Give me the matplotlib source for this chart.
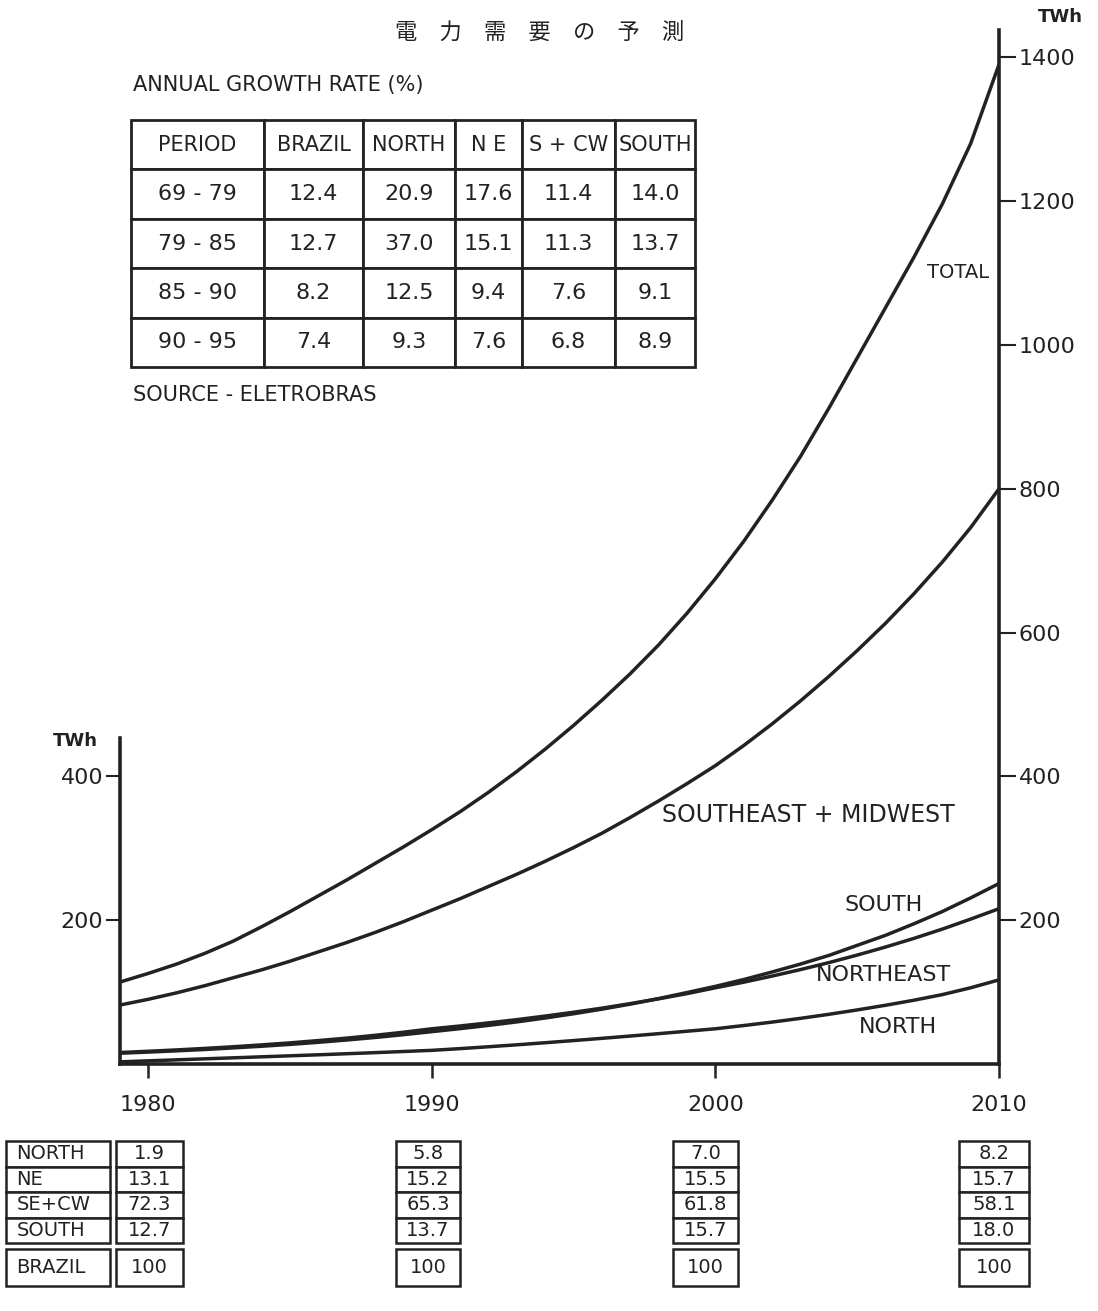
import matplotlib.pyplot as plt

# projected electricity demand (TWh)
years = list(range(1979, 2011))
total = [114, 126, 139, 154, 171, 191, 212, 234, 256, 279, 302, 326,
         351, 378, 407, 438, 471, 506, 543, 583, 627, 675,
         727, 784, 845, 912, 982, 1052, 1122, 1196, 1280, 1390]
se_mw = [82, 90, 99, 109, 120, 131, 143, 156, 169, 183, 198, 214,
         230, 247, 264, 282, 301, 321, 343, 366, 390, 415,
         443, 473, 505, 539, 575, 613, 654, 698, 746, 800]
south = [15, 16.6, 18.3, 20.2, 22.4, 24.7, 27.3, 30.2, 33.4, 36.9, 40.8, 45,
         49.2, 53.7, 58.6, 64.0, 69.9, 76.3, 83.3, 91.0, 99.4, 108,
         117.5, 128, 139, 151, 165, 179, 195, 212, 231, 251]
northeast = [16, 17.7, 19.6, 21.7, 24.0, 26.6, 29.4, 32.6, 36.0, 39.9, 44.2, 49,
             52.9, 57.2, 61.7, 66.7, 72.0, 77.7, 84.0, 90.7, 97.9, 106,
             113.8, 122.3, 131.3, 141.0, 151.5, 162.7, 174.7, 187.6, 201.5, 216]
north = [3, 4.4, 5.8, 7.2, 8.6, 10, 11.4, 12.8, 14.3, 15.8, 17.4, 19,
         21.4, 24, 26.7, 29.6, 32.6, 35.7, 38.9, 42.2, 45.6, 49,
         53.5, 58.3, 63.5, 69.1, 75.2, 81.7, 88.7, 96.5, 106, 117]

# annual growth rate table
table_header = ['PERIOD', 'BRAZIL', 'NORTH', 'N E', 'S + CW', 'SOUTH']
periods = ['69 - 79', '79 - 85', '85 - 90', '90 - 95']
rate_brazil = [12.4, 12.7, 8.2, 7.4]
rate_north = [20.9, 37.0, 12.5, 9.3]
rate_ne = [17.6, 15.1, 9.4, 7.6]
rate_scw = [11.4, 11.3, 7.6, 6.8]
rate_south = [14.0, 13.7, 9.1, 8.9]

# regional shares (%)
share_years = [1980, 1990, 2000, 2010]
share_labels = ['NORTH', 'NE', 'SE+CW', 'SOUTH']
share_north = [1.9, 5.8, 7.0, 8.2]
share_ne = [13.1, 15.2, 15.5, 15.7]
share_secw = [72.3, 65.3, 61.8, 58.1]
share_south = [12.7, 13.7, 15.7, 18.0]
share_brazil = [100, 100, 100, 100]

W, H = 1098, 1311
ink = '#222222'
plt.rcParams['font.family'] = ['DejaVu Sans']

fig = plt.figure(figsize=(W / 100, H / 100), dpi=100)


def fx(x):
    return x / W


def fy(y):
    return 1 - y / H


ax = fig.add_axes([fx(120), fy(1064), fx(999) - fx(120), fy(30) - fy(1064)])
ax.set_xlim(1979, 2010)
ax.set_ylim(0, 1438)

for vals in [total, se_mw, south, northeast, north]:
    ax.plot(years, vals, color=ink, lw=2.5, solid_capstyle='round', solid_joinstyle='round')

ax.spines['top'].set_visible(False)
ax.spines['right'].set_visible(False)
ax.spines['left'].set_bounds(0, 454)
for s in ['left', 'bottom']:
    ax.spines[s].set_linewidth(2.6)
    ax.spines[s].set_color(ink)

ax.set_xticks(share_years)
ax.tick_params(axis='x', length=10, width=1.8, labelsize=16, pad=12, colors=ink)
ax.set_yticks([200, 400])
ax.tick_params(axis='y', length=10, width=1.5, labelsize=16, pad=2, colors=ink)

ax2 = ax.twinx()
ax2.set_ylim(0, 1438)
ax2.set_yticks(list(range(200, 1401, 200)))
ax2.tick_params(axis='y', length=12, width=1.5, labelsize=16, pad=2, colors=ink)
for s in ['left', 'top', 'bottom']:
    ax2.spines[s].set_visible(False)
ax2.spines['right'].set_linewidth(2.6)
ax2.spines['right'].set_color(ink)

fig.text(fx(75), fy(741), 'TWh', fontsize=13, fontweight='bold', color=ink, ha='center', va='center')
fig.text(fx(1060), fy(17), 'TWh', fontsize=13, fontweight='bold', color=ink, ha='center', va='center')

# curve labels
fig.text(fx(958), fy(272), 'TOTAL', fontsize=14, color=ink, ha='center', va='center')
fig.text(fx(808), fy(815), 'SOUTHEAST + MIDWEST', fontsize=17, color=ink, ha='center', va='center')
fig.text(fx(884), fy(905), 'SOUTH', fontsize=16, color=ink, ha='center', va='center')
fig.text(fx(884), fy(975), 'NORTHEAST', fontsize=16, color=ink, ha='center', va='center')
fig.text(fx(898), fy(1027), 'NORTH', fontsize=16, color=ink, ha='center', va='center')

# title and growth table
fig.text(fx(540), fy(32), '電　力　需　要　の　予　測', fontsize=16, color=ink, ha='center', va='center',
         family=['Noto Sans CJK JP', 'DejaVu Sans'])
fig.text(fx(133), fy(85), 'ANNUAL GROWTH RATE (%)', fontsize=15, color=ink, ha='left', va='center')
fig.text(fx(133), fy(395), 'SOURCE - ELETROBRAS', fontsize=15, color=ink, ha='left', va='center')

rows = []
for i, p in enumerate(periods):
    rows.append([p] + [f'{r[i]:.1f}' for r in [rate_brazil, rate_north, rate_ne, rate_scw, rate_south]])
col_w = [133, 99, 92, 67, 93, 80]
col_w = [c / sum(col_w) for c in col_w]

tax = fig.add_axes([fx(131), fy(367), fx(695) - fx(131), fy(120) - fy(367)])
tax.axis('off')
tbl = tax.table(cellText=rows, colLabels=table_header, colWidths=col_w, bbox=[0, 0, 1, 1], cellLoc='center')
tbl.auto_set_font_size(False)
for (r, c), cell in tbl.get_celld().items():
    cell.set_linewidth(2)
    cell.set_edgecolor(ink)
    cell.get_text().set_color(ink)
    cell.get_text().set_fontsize(15 if r == 0 else 16)


# share boxes under the axis
def box_column(x0, x1, y0, y1, texts, loc):
    bax = fig.add_axes([fx(x0), fy(y1), fx(x1) - fx(x0), fy(y0) - fy(y1)])
    bax.axis('off')
    t = bax.table(cellText=[[s] for s in texts], bbox=[0, 0, 1, 1], cellLoc=loc)
    t.auto_set_font_size(False)
    for cell in t.get_celld().values():
        cell.set_linewidth(1.8)
        cell.set_edgecolor(ink)
        cell.get_text().set_color(ink)
        cell.get_text().set_fontsize(14)


box_column(6, 110, 1141, 1243, share_labels, 'left')
box_column(6, 110, 1249, 1286, ['BRAZIL'], 'left')
col_x = [(116, 183), (396, 460), (673, 738), (959, 1029)]
for i, (x0, x1) in enumerate(col_x):
    vals = [f'{share_north[i]:.1f}', f'{share_ne[i]:.1f}', f'{share_secw[i]:.1f}', f'{share_south[i]:.1f}']
    box_column(x0, x1, 1141, 1243, vals, 'center')
    box_column(x0, x1, 1249, 1286, [str(share_brazil[i])], 'center')

fig.savefig('out.png', dpi=100, facecolor='white')
